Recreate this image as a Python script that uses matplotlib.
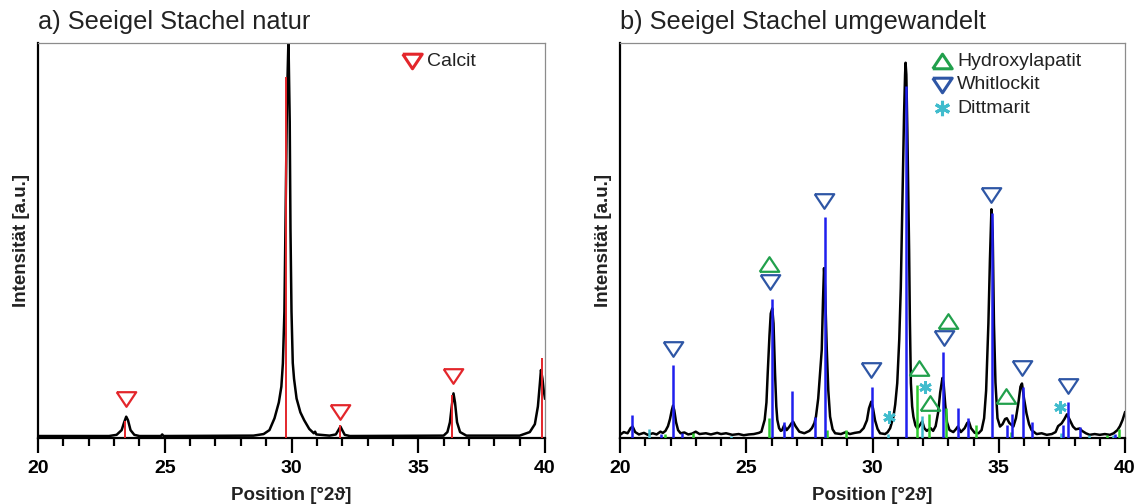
import matplotlib
matplotlib.use('Agg')
import matplotlib.pyplot as plt
from matplotlib.ticker import MultipleLocator

plt.rcParams['font.family'] = ['Liberation Sans', 'DejaVu Sans']

# ---- a) Seeigel Stachel natur: gemessene Kurve (abgelesen)
a_x = [20.0, 22.8, 23.1, 23.3, 23.4, 23.48, 23.55, 23.65, 23.8, 24.0, 24.85, 24.9, 24.95,
       28.5, 28.9, 29.13, 29.33, 29.5, 29.6, 29.66, 29.72, 29.76, 29.82, 29.88, 29.93, 29.96,
       30.0, 30.05, 30.1, 30.2, 30.35, 30.5, 30.7, 30.88, 30.93, 30.98, 31.5, 31.75, 31.85,
       31.93, 32.0, 32.1, 32.3,
       36.0, 36.15, 36.25, 36.33, 36.39, 36.45, 36.53, 36.65, 36.9,
       39.0, 39.4, 39.6, 39.72, 39.8, 39.84, 39.9, 39.95, 40.0]
a_y = [0.5, 0.5, 0.8, 2.0, 4.0, 5.4, 4.5, 2.0, 0.8, 0.5, 0.5, 0.9, 0.5,
       0.6, 1.0, 2.0, 5.0, 9.0, 13, 18.9, 32, 52.7, 85, 101, 80, 52.7,
       32, 19, 15, 10, 6.5, 4.5, 2.3, 1.2, 1.6, 0.9, 0.6, 0.9, 2.0,
       2.9, 2.0, 0.8, 0.5,
       0.6, 1.5, 4.0, 8.5, 11.3, 9.0, 4.0, 1.5, 0.6,
       0.6, 1.5, 3.5, 8.0, 14, 17.2, 15, 12, 10]

# Calcit Referenzlinien
calcit_pos = [23.43, 29.79, 31.93, 36.35, 39.87]
calcit_int = [4.2, 91.5, 3.3, 10.9, 20.3]
# Calcit Markierungen
calcit_mark_x = [23.47, 31.93, 36.37]
calcit_mark_y = [9.9, 6.5, 15.6]

# ---- b) Seeigel Stachel umgewandelt
b_x = [20.0, 20.15, 20.3, 20.42, 20.5, 20.6, 20.75, 20.95, 21.1, 21.3, 21.45, 21.6, 21.7,
       21.8, 21.9, 21.98, 22.05, 22.1, 22.15, 22.22, 22.3, 22.4, 22.55, 22.7, 22.85, 23.0,
       23.15, 23.4, 23.6, 23.85, 24.0, 24.2, 24.45, 24.7, 24.9, 25.1, 25.3, 25.5, 25.6,
       25.73, 25.8, 25.85, 25.92, 25.97, 26.03, 26.08, 26.14, 26.19, 26.23, 26.3, 26.37,
       26.42, 26.5, 26.6, 26.7, 26.8, 26.86, 26.95, 27.1, 27.3, 27.5, 27.6, 27.7, 27.76,
       27.85, 27.92, 27.99, 28.04, 28.08, 28.12, 28.19, 28.25, 28.32, 28.42, 28.52, 28.75,
       28.95, 29.1, 29.3, 29.5, 29.65, 29.78, 29.86, 29.95, 30.02, 30.1, 30.2, 30.3, 30.5,
       30.6, 30.7, 30.83, 30.9, 30.98, 31.06, 31.12, 31.15, 31.2, 31.25, 31.29, 31.31, 31.34,
       31.38, 31.42, 31.45, 31.48, 31.52, 31.57, 31.62, 31.7, 31.78, 31.9, 31.97, 32.05,
       32.15, 32.3, 32.4, 32.5, 32.6, 32.68, 32.77, 32.82, 32.88, 32.95, 33.05, 33.2, 33.3,
       33.38, 33.5, 33.65, 33.75, 33.82, 33.9, 34.05, 34.2, 34.32, 34.42, 34.5, 34.59, 34.65,
       34.71, 34.76, 34.81, 34.87, 34.95, 35.05, 35.15, 35.25, 35.32, 35.42, 35.58, 35.68,
       35.78, 35.86, 35.92, 36.0, 36.1, 36.2, 36.3, 36.4, 36.5, 36.7, 36.9, 37.1, 37.25,
       37.35, 37.49, 37.6, 37.7, 37.78, 37.94, 38.05, 38.2, 38.3, 38.45, 38.6, 38.8, 39.0,
       39.2, 39.4, 39.55, 39.7, 39.8, 39.9, 40.0]
b_y = [0.8, 1.5, 1.2, 2.5, 2.9, 1.5, 0.9, 1.3, 0.8, 1.2, 0.9, 1.6, 1.3,
       1.8, 3.0, 4.8, 7.0, 8.2, 7.0, 4.0, 2.0, 1.2, 1.4, 0.9, 1.1, 1.6,
       1.0, 1.2, 0.9, 1.3, 1.0, 1.2, 0.8, 1.0, 0.7, 0.9, 1.0, 1.3, 1.6,
       4.6, 9.0, 16.4, 26, 31.5, 32.8, 29, 16.4, 8.0, 4.6, 2.5, 1.8,
       2.0, 3.2, 2.0, 2.8, 3.8, 4.1, 3.0, 1.6, 1.2, 1.8, 2.5, 3.8, 5.4,
       10, 16, 22.3, 35, 43, 38, 22.3, 12, 5.4, 2.2, 1.2, 1.0,
       1.5, 1.0, 1.3, 1.5, 2.5, 4.5, 7.5, 9.2, 7.5, 4.5, 2.3, 1.2, 1.0,
       1.5, 2.5, 5.4, 8.5, 13.9, 25, 38, 47.6, 65, 82, 92, 95, 92,
       78, 60, 47.6, 30, 13.9, 8.0, 5.4, 3.2, 2.4, 3.5, 4.2, 2.5,
       1.8, 2.5, 1.8, 3.0, 6.5, 11.5, 15.2, 13.5, 8.5, 4.0, 2.0, 1.5, 2.2,
       2.9, 1.5, 2.5, 3.8, 4.1, 2.5, 1.3, 1.2, 2.0, 5.0, 12, 29, 45,
       57.9, 52, 29, 14, 5.0, 2.9, 3.5, 4.8, 5.0, 3.8, 2.9, 5.0,
       9.0, 13.0, 13.8, 10, 6.2, 3.5, 2.0, 1.5, 1.0, 1.2, 0.8, 1.0, 1.5,
       3.0, 3.7, 4.8, 6.0, 5.0, 2.9, 2.2, 2.4, 1.8, 1.2, 0.8, 1.0, 0.8,
       1.0, 0.8, 1.2, 2.0, 3.0, 4.5, 6.5]

# Whitlockit Referenzlinien
whit_pos = [20.46, 21.62, 22.09, 22.46, 26.03, 26.48, 26.82, 27.73, 28.12, 29.98, 31.33,
            32.81, 33.37, 33.78, 34.75, 35.34, 35.51, 35.95, 36.32, 37.53, 37.76, 38.23, 39.6]
whit_int = [5.8, 1.0, 18.5, 1.3, 35.1, 4.1, 12.0, 5.4, 56, 13.0, 89,
            21.8, 7.5, 5.0, 57, 3.3, 6.2, 13.0, 4.1, 3.3, 9.2, 2.9, 1.0]
# Hydroxylapatit Referenzlinien
hap_pos = [21.78, 22.9, 25.92, 28.19, 28.95, 31.78, 32.23, 32.91, 34.1, 35.5, 39.3, 39.78]
hap_int = [1.0, 1.3, 5.0, 2.0, 2.0, 13.4, 6.2, 7.5, 3.3, 1.5, 0.8, 2.4]
# Dittmarit Referenzlinien
ditt_pos = [21.16, 24.4, 30.62, 31.96, 37.46, 38.57, 39.52]
ditt_int = [2.3, 0.6, 1.0, 5.6, 1.3, 0.8, 0.8]

# Markierungen
whit_mark_x = [22.09, 25.96, 28.07, 29.94, 32.82, 34.71, 35.92, 37.75]
whit_mark_y = [22.5, 39.6, 60.0, 17.2, 25.4, 61.5, 17.8, 13.2]
hap_mark_x = [25.91, 31.83, 32.28, 32.99, 35.28]
hap_mark_y = [44.0, 17.6, 8.8, 29.7, 10.7]
ditt_mark_x = [30.65, 32.06, 37.41]
ditt_mark_y = [5.2, 12.8, 7.8]

xtick_vals = [20, 25, 30, 35, 40]
xtick_labels = ['20', '25', '30', '35', '40']

tri_down = [(-1, 0.75), (1, 0.75), (0, -0.75), (-1, 0.75)]
tri_up = [(-1, -0.75), (1, -0.75), (0, 0.75), (-1, -0.75)]
asterisk = (6, 2, 0)

c_red = '#e3262b'
c_whit_line = '#1f1fee'
c_whit_mark = '#2e56a5'
c_hap_line = '#2ecc2e'
c_hap_mark = '#21a04c'
c_ditt = '#40bccd'
c_text = '#222222'

fig = plt.figure(figsize=(11.39, 5.04), dpi=100)
ax_a = fig.add_axes([38 / 1139, 66 / 504, 507 / 1139, 395 / 504])
ax_b = fig.add_axes([620 / 1139, 66 / 504, 505 / 1139, 395 / 504])


def style_axes(ax, title):
    ax.set_xlim(20, 40)
    ax.set_ylim(0, 100)
    ax.set_yticks([])
    ax.set_xticks(xtick_vals)
    ax.set_xticklabels(xtick_labels, fontweight='bold', fontsize=14)
    ax.xaxis.set_minor_locator(MultipleLocator(1))
    ax.tick_params(axis='x', which='major', direction='out', length=11, width=1.6,
                   pad=5, colors='black')
    ax.tick_params(axis='x', which='minor', direction='out', length=6, width=1.6)
    for s in ['top', 'right']:
        ax.spines[s].set_color('#8c8c8c')
        ax.spines[s].set_linewidth(0.9)
    for s in ['left', 'bottom']:
        ax.spines[s].set_color('black')
        ax.spines[s].set_linewidth(1.6)
    ax.set_xlabel('Position [°2ϑ]', fontsize=13.5, fontweight='bold', color=c_text,
                  labelpad=7)
    ax.set_ylabel('Intensität [a.u.]', fontsize=13.5, fontweight='bold', color=c_text)
    ax.yaxis.set_label_coords(-0.016, 0.5)
    ax.set_title(title, loc='left', fontsize=18.3, color=c_text, pad=10)


# ---- Panel a
ax_a.plot(a_x, a_y, color='black', lw=1.8, zorder=2)
ax_a.vlines(calcit_pos, 0, calcit_int, color=c_red, lw=1.4, zorder=3)
ax_a.plot(calcit_mark_x, calcit_mark_y, ls='none', marker=tri_down, ms=14,
          mfc='none', mec=c_red, mew=1.6, zorder=4)
style_axes(ax_a, 'a) Seeigel Stachel natur')
ax_a.plot([0.738], [0.954], transform=ax_a.transAxes, marker=tri_down, ms=14,
          mfc='none', mec=c_red, mew=2.2, ls='none', clip_on=False)
ax_a.text(0.768, 0.954, 'Calcit', transform=ax_a.transAxes, fontsize=14,
          va='center', ha='left', color=c_text)

# ---- Panel b
ax_b.plot(b_x, b_y, color='black', lw=1.8, zorder=2)
ax_b.vlines(hap_pos, 0, hap_int, color=c_hap_line, lw=1.8, zorder=3)
ax_b.vlines(ditt_pos, 0, ditt_int, color=c_ditt, lw=1.8, zorder=3)
ax_b.vlines(whit_pos, 0, whit_int, color=c_whit_line, lw=1.8, zorder=3)
ax_b.plot(whit_mark_x, whit_mark_y, ls='none', marker=tri_down, ms=14,
          mfc='none', mec=c_whit_mark, mew=1.6, zorder=4)
ax_b.plot(hap_mark_x, hap_mark_y, ls='none', marker=tri_up, ms=14,
          mfc='none', mec=c_hap_mark, mew=1.6, zorder=4)
ax_b.plot(ditt_mark_x, ditt_mark_y, ls='none', marker=asterisk, ms=9,
          mec=c_ditt, mew=2.0, zorder=4)
style_axes(ax_b, 'b) Seeigel Stachel umgewandelt')

legend_rows = [
    (tri_up, c_hap_mark, 'Hydroxylapatit', 0.954, 14),
    (tri_down, c_whit_mark, 'Whitlockit', 0.894, 14),
    (asterisk, c_ditt, 'Dittmarit', 0.835, 11),
]
for mk, col, label, yy, ms in legend_rows:
    ax_b.plot([0.638], [yy], transform=ax_b.transAxes, marker=mk, ms=ms,
              mfc='none', mec=col, mew=2.2, ls='none', clip_on=False)
    ax_b.text(0.668, yy, label, transform=ax_b.transAxes, fontsize=14,
              va='center', ha='left', color=c_text)

fig.savefig('out.png', dpi=100)
